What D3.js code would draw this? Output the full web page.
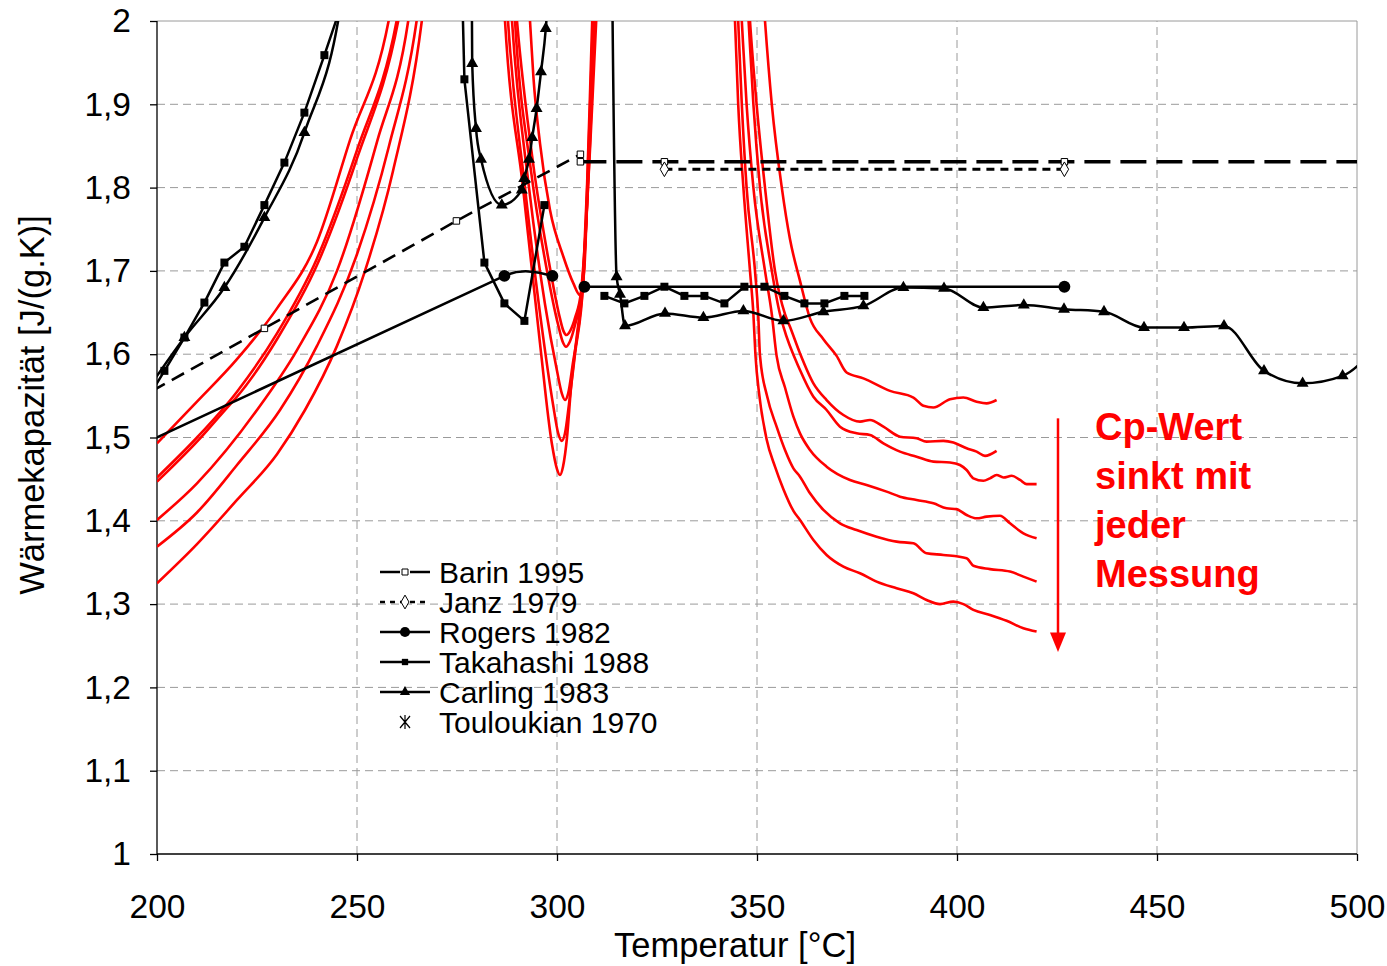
<!DOCTYPE html>
<html>
<head>
<meta charset="utf-8">
<script src="https://cdn.jsdelivr.net/npm/d3@7"></script>
<style>
  body { margin: 0; background: #fff; }
  text { font-family: "Liberation Sans", Arial, sans-serif; }
</style>
</head>
<body>
<svg id="chart" width="1387" height="966"></svg>
<script>
// axis ticks
const xTicks = [200, 250, 300, 350, 400, 450, 500];
const yTicks = [1, 1.1, 1.2, 1.3, 1.4, 1.5, 1.6, 1.7, 1.8, 1.9, 2];
const yTickLabels = ["1", "1,1", "1,2", "1,3", "1,4", "1,5", "1,6", "1,7", "1,8", "1,9", "2"];

// literature data [T in °C, cp in J/(g.K)]
const barinSolid = [[126.85, 1.363], [226.85, 1.631], [274.85, 1.760], [305.85, 1.840]];
const barinLiquid = [[305.85, 1.831], [326.85, 1.831], [426.85, 1.831], [526.85, 1.831]];
const janz = [[326.85, 1.822], [426.85, 1.822]];
const rogersSolid = [[126.85, 1.337], [286.85, 1.694], [298.85, 1.694]];
const rogersLiquid = [[306.85, 1.681], [426.85, 1.681]];
const takahashiA = [[196.85, 1.54], [201.85, 1.580], [206.85, 1.620], [211.85, 1.662], [216.85, 1.710],
  [221.85, 1.729], [226.85, 1.779], [231.85, 1.830], [236.85, 1.890], [241.85, 1.959], [246.85, 2.03],
  [251.85, 2.5], [256.85, 3.0], [261.85, 3.2], [266.85, 3.1], [271.85, 2.9], [276.85, 1.930],
  [281.85, 1.710], [286.85, 1.661], [291.85, 1.640], [296.85, 1.779]];
const takahashiB = [[311.85, 1.670], [316.85, 1.661], [321.85, 1.670], [326.85, 1.681], [331.85, 1.670],
  [336.85, 1.670], [341.85, 1.661], [346.85, 1.681], [351.85, 1.681], [356.85, 1.670], [361.85, 1.661],
  [366.85, 1.661], [371.85, 1.670], [376.85, 1.670]];
const carling = [[196.85, 1.552], [206.85, 1.620], [216.85, 1.680], [226.85, 1.764], [236.85, 1.866],
  [246.85, 2.05], [256.85, 2.6], [266.85, 3.2], [277.5, 3.0], [278.8, 1.949], [279.75, 1.871], [281, 1.834],
  [286.2, 1.779], [291.2, 1.797], [291.8, 1.811], [293, 1.834], [293.8, 1.860], [294.9, 1.895], [296, 1.939],
  [297.2, 1.991], [298.5, 2.1], [305, 3.5], [312.5, 2.6], [314.9, 1.693], [315.75, 1.672], [317, 1.634],
  [327, 1.649], [336.6, 1.644], [346.6, 1.652], [356.6, 1.640], [366.6, 1.651], [376.6, 1.658],
  [386.6, 1.680], [396.75, 1.679], [406.6, 1.656], [416.7, 1.659], [426.75, 1.654], [436.75, 1.651],
  [446.75, 1.632], [456.75, 1.632], [466.75, 1.634], [476.75, 1.580], [486.4, 1.565], [496.4, 1.574],
  [506.4, 1.62]];

// own measurements (red), one array per run
const messung1 = [[200, 1.493], [210, 1.543], [220, 1.594], [230, 1.655], [240, 1.735], [248.25, 1.857],
  [257.9, 2.0], [262, 2.12], [275, 2.6], [290, 2.2],
  [293.25, 2.0], [294.1, 1.933], [295.75, 1.853], [298.25, 1.773], [301.6, 1.717], [304.1, 1.685],
  [305.75, 1.671], [306.8, 1.70], [307.5, 1.78], [308.4, 1.90], [309.2, 2.0], [310, 2.1], [330, 2.6], [350, 2.15],
  [352, 2.0], [353.7, 1.9], [356.2, 1.8], [358.25, 1.738], [360.75, 1.688], [363.25, 1.643], [366.6, 1.618],
  [369.9, 1.598], [372.4, 1.578], [376.6, 1.571], [383.25, 1.556], [389.1, 1.548], [391.6, 1.538],
  [394.1, 1.536], [398.25, 1.546], [401.6, 1.548], [404.9, 1.543], [407.4, 1.541], [409.9, 1.545]];
const messung2 = [[200, 1.452], [210, 1.500], [220, 1.555], [230, 1.625], [240, 1.715], [250, 1.845],
  [259.9, 2.0], [264, 2.12], [276, 2.6], [287, 2.2],
  [290, 2.0], [294, 1.83], [298, 1.71], [300.5, 1.648], [301.6, 1.628], [302.4, 1.623], [303.3, 1.628],
  [304.6, 1.645], [306, 1.675], [307.2, 1.75], [308.6, 1.88], [309.8, 2.0], [311, 2.15], [330, 2.6], [346.5, 2.15],
  [348.25, 2.0], [349.9, 1.9], [352, 1.8], [354.5, 1.7], [357, 1.648], [358.25, 1.633], [360.75, 1.601],
  [364.1, 1.565], [367.4, 1.545], [371.6, 1.527], [375.75, 1.519], [378.25, 1.521], [381.6, 1.513],
  [385.75, 1.501], [389.9, 1.499], [392.4, 1.495], [396.6, 1.496], [399.1, 1.494], [402.4, 1.487],
  [404.9, 1.483], [407, 1.478], [409.9, 1.484]];
const messung3 = [[200, 1.447], [210, 1.495], [217, 1.533], [220, 1.549], [230, 1.618], [240, 1.707],
  [250, 1.835], [260.3, 2.0], [264.5, 2.12], [276.5, 2.6], [287, 2.25],
  [289.5, 2.0], [293.5, 1.82], [297.5, 1.70], [300.3, 1.635], [301.5, 1.614], [302.25, 1.609], [303.2, 1.615],
  [304.5, 1.635], [306, 1.67], [307, 1.73], [308.3, 1.86], [309.5, 2.0], [310.7, 2.15], [329, 2.6], [346, 2.15],
  [347.9, 2.0], [349.1, 1.9], [350.75, 1.8], [353.7, 1.7], [355.75, 1.648], [356.6, 1.633], [360.75, 1.581],
  [364.1, 1.549], [367.4, 1.533], [370.75, 1.513], [374.9, 1.505], [378.25, 1.503], [381.6, 1.493],
  [385.75, 1.483], [389.9, 1.477], [394.1, 1.471], [398.25, 1.470], [400.75, 1.467], [402.4, 1.461],
  [404.1, 1.451], [406.6, 1.448], [408.25, 1.451], [409.9, 1.455], [411.6, 1.452], [413.7, 1.454],
  [415.75, 1.449], [417.4, 1.444], [419.9, 1.444]];
const messung4 = [[200, 1.401], [210, 1.445], [225, 1.533], [235, 1.605], [245, 1.70], [255, 1.855],
  [262.8, 2.0], [266, 2.12], [277, 2.6], [286, 2.25],
  [288.75, 2.0], [293, 1.8], [297, 1.66], [300, 1.58], [301.2, 1.553], [302, 1.545], [302.8, 1.553],
  [304, 1.59], [305.3, 1.63], [306.6, 1.69], [307.9, 1.83], [308.8, 1.95], [309.3, 2.0], [310.5, 2.15], [328, 2.6], [344.5, 2.15],
  [346.2, 2.0], [347.4, 1.9], [349.1, 1.8], [352, 1.7], [353.7, 1.648], [354.9, 1.598], [357, 1.56],
  [359.1, 1.525], [360.75, 1.505], [363.25, 1.485], [367.4, 1.465], [373.25, 1.449], [377.4, 1.443],
  [382.4, 1.435], [385.75, 1.429], [389.9, 1.425], [394.1, 1.421], [397.4, 1.415], [399.9, 1.414],
  [402.4, 1.407], [404.9, 1.403], [407.4, 1.405], [410.75, 1.406], [413.25, 1.397], [416.6, 1.385],
  [419.9, 1.379]];
const messung5 = [[200, 1.369], [210, 1.41], [220, 1.467], [230.75, 1.533], [240, 1.61], [250, 1.72],
  [258, 1.85], [264.9, 2.0], [268, 2.12], [278, 2.6], [285, 2.25],
  [287.75, 2.0], [292, 1.8], [296, 1.64], [299, 1.54], [300.3, 1.505], [301.2, 1.496], [302, 1.505],
  [303, 1.54], [304.5, 1.60], [306.6, 1.69], [307.7, 1.82], [308.5, 1.93], [309, 2.0], [310.2, 2.15], [327, 2.6], [343.6, 2.15],
  [345.3, 2.0], [346.2, 1.9], [347.4, 1.8], [349.5, 1.7], [350.3, 1.648], [350.75, 1.598], [352.5, 1.55],
  [354.9, 1.513], [357, 1.485], [359.1, 1.463], [360.75, 1.453], [363.25, 1.433], [366.6, 1.413],
  [370.75, 1.397], [374.9, 1.389], [379.9, 1.381], [384.9, 1.375], [389.1, 1.373], [392.4, 1.361],
  [396.6, 1.359], [402.4, 1.355], [404.1, 1.346], [408.25, 1.342], [413.25, 1.339], [416.6, 1.333],
  [419.9, 1.327]];
const messung6 = [[200, 1.325], [210, 1.372], [220, 1.425], [230, 1.48], [237, 1.533], [245, 1.61],
  [252, 1.70], [259, 1.82], [266.2, 2.0], [269, 2.12], [278, 2.6], [284.5, 2.25],
  [287, 2.0], [291.5, 1.8], [295.75, 1.613], [298.7, 1.493], [300, 1.462], [300.75, 1.455], [301.5, 1.465],
  [302.5, 1.5], [303.5, 1.56], [304.9, 1.62], [306.6, 1.70], [307.5, 1.80], [308.3, 1.92], [308.8, 2.0],
  [310, 2.15], [326, 2.6], [342.8, 2.15],
  [344.5, 2.0], [345.3, 1.9], [346.6, 1.8], [348.25, 1.7], [349.1, 1.648], [349.6, 1.60], [350.6, 1.55],
  [352.4, 1.498], [354.5, 1.465], [356.6, 1.438], [359.1, 1.412], [360.75, 1.401], [364.1, 1.377],
  [367.4, 1.359], [371.6, 1.345], [375.75, 1.337], [379.9, 1.327], [384.9, 1.319], [389.1, 1.313],
  [392.4, 1.305], [395.75, 1.300], [399.1, 1.303], [401.6, 1.300], [404.1, 1.293], [408.25, 1.287],
  [412.4, 1.280], [416.6, 1.271], [419.9, 1.267]];
const messungen = [messung1, messung2, messung3, messung4, messung5, messung6];

const legendNames = ["Barin 1995", "Janz 1979", "Rogers 1982", "Takahashi 1988", "Carling 1983", "Touloukian 1970"];
const noteLines = ["Cp-Wert", "sinkt mit", "jeder", "Messung"];

const svg = d3.select("#chart");
const x = d3.scaleLinear().domain([200, 500]).range([157, 1357]);
const y = d3.scaleLinear().domain([1, 2]).range([854, 21]);

svg.append("defs").append("clipPath").attr("id", "plot")
  .append("rect").attr("x", 157).attr("y", 21).attr("width", 1200).attr("height", 833);

// grid
const grid = svg.append("g");
grid.selectAll("line.h").data(yTicks.slice(1)).enter().append("line")
  .attr("x1", x(200)).attr("x2", x(500))
  .attr("y1", d => y(d)).attr("y2", d => y(d))
  .attr("stroke", "#9a9a9a").attr("stroke-width", 1)
  .attr("stroke-dasharray", d => d === 2 ? null : "8,5");
grid.selectAll("line.v").data(xTicks.slice(1)).enter().append("line")
  .attr("x1", d => x(d)).attr("x2", d => x(d))
  .attr("y1", y(1)).attr("y2", y(2))
  .attr("stroke", "#9a9a9a").attr("stroke-width", 1)
  .attr("stroke-dasharray", d => d === 500 ? null : "8,5");

// axes
const yAxis = d3.axisLeft(y).tickValues(yTicks).tickSize(7).tickPadding(19)
  .tickFormat((d, i) => yTickLabels[i]);
const xAxis = d3.axisBottom(x).tickValues(xTicks).tickSize(7).tickPadding(33)
  .tickFormat(d => d);
const gy = svg.append("g").attr("transform", `translate(${x(200)},0)`).call(yAxis);
const gx = svg.append("g").attr("transform", `translate(0,${y(1)})`).call(xAxis);
[gx, gy].forEach(g => {
  g.selectAll("path,line").attr("stroke", "#000").attr("stroke-width", 1.3);
  g.selectAll("text").attr("font-size", 33.5).attr("fill", "#000")
    .style("font-family", '"Liberation Sans", Arial, sans-serif');
});
gx.selectAll("text").attr("dy", "0.35em").attr("y", 52);
gy.select(".domain").attr("d", `M0,${y(2)}V${y(1)}`);
gx.select(".domain").attr("d", `M${x(200)},0H${x(500)}`);

svg.append("text").attr("x", 735).attr("y", 957).attr("text-anchor", "middle")
  .attr("font-size", 34.5).text("Temperatur [°C]");
svg.append("text").attr("transform", "translate(44,405) rotate(-90)").attr("text-anchor", "middle")
  .attr("font-size", 34.5).text("Wärmekapazität [J/(g.K)]");

const plot = svg.append("g").attr("clip-path", "url(#plot)");
const toLine = (curve) => d3.line().x(d => x(d[0])).y(d => y(d[1])).curve(curve);
const inside = d => d[0] >= 200 && d[0] <= 500 && d[1] >= 1 && d[1] <= 2;

// red measurements
plot.selectAll("path.mess").data(messungen).enter().append("path")
  .attr("d", toLine(d3.curveMonotoneX))
  .attr("fill", "none").attr("stroke", "#ff0000").attr("stroke-width", 2.6);

// literature lines
function series(d, dash, width) {
  plot.append("path").attr("d", d)
    .attr("fill", "none").attr("stroke", "#000").attr("stroke-width", width)
    .attr("stroke-dasharray", dash);
}
// Rogers: straight rise, then a smoothed hump between the last two points
function rogersPath(data) {
  const p = d3.path();
  const [a, b, c] = data.map(d => [x(d[0]), y(d[1])]);
  const s = (b[1] - a[1]) / (b[0] - a[0]);
  const dx = (c[0] - b[0]) / 3;
  p.moveTo(a[0], a[1]);
  p.lineTo(b[0], b[1]);
  p.bezierCurveTo(b[0] + dx, b[1] + s * dx, c[0] - dx, c[1] + 0.6 * s * dx, c[0], c[1]);
  return p.toString();
}
series(toLine(d3.curveLinear)(barinSolid), "14,8", 2.6);
series(toLine(d3.curveLinear)(barinLiquid), "26,10", 3.4);
series(toLine(d3.curveLinear)(janz), "8,6", 3);
series(rogersPath(rogersSolid), null, 2.5);
series(toLine(d3.curveLinear)(rogersLiquid), null, 2.6);
series(toLine(d3.curveLinear)(takahashiA), null, 2.5);
series(toLine(d3.curveLinear)(takahashiB), null, 2.5);
series(toLine(d3.curveMonotoneX)(carling), null, 2.5);

function markers(data, type, size, open) {
  svg.append("g").selectAll("path").data(data.filter(inside)).enter().append("path")
    .attr("transform", d => `translate(${x(d[0])},${y(d[1])})`)
    .attr("d", d3.symbol().type(type).size(size))
    .attr("fill", open ? "#fff" : "#000").attr("stroke", "#000").attr("stroke-width", open ? 1 : 0);
}
markers(barinSolid, d3.symbolSquare, 42, true);
markers(barinLiquid, d3.symbolSquare, 42, true);
markers(janz, d3.symbolDiamond, 62, true);
markers(rogersSolid, d3.symbolCircle, 110, false);
markers(rogersLiquid, d3.symbolCircle, 110, false);
markers(takahashiA, d3.symbolSquare, 64, false);
markers(takahashiB, d3.symbolSquare, 64, false);
markers(carling, d3.symbolTriangle, 62, false);

// legend
const legend = svg.append("g").attr("transform", "translate(380,572)");
const row = 30;
const items = legend.selectAll("g").data(legendNames).enter().append("g")
  .attr("transform", (d, i) => `translate(0,${i * row})`);
items.append("text").attr("x", 59).attr("dy", "0.36em").attr("font-size", 30).text(d => d);
items.filter((d, i) => i === 0).each(function () {
  const g = d3.select(this);
  g.append("line").attr("x1", 0).attr("x2", 20).attr("stroke", "#000").attr("stroke-width", 2.5);
  g.append("line").attr("x1", 30).attr("x2", 50).attr("stroke", "#000").attr("stroke-width", 2.5);
  g.append("path").attr("transform", "translate(25,0)").attr("d", d3.symbol().type(d3.symbolSquare).size(36)())
    .attr("fill", "#fff").attr("stroke", "#000");
});
items.filter((d, i) => i === 1).each(function () {
  const g = d3.select(this);
  g.append("line").attr("x1", 0).attr("x2", 50).attr("stroke", "#000").attr("stroke-width", 2.5)
    .attr("stroke-dasharray", "5,5");
  g.append("path").attr("transform", "translate(25,0)").attr("d", d3.symbol().type(d3.symbolDiamond).size(55)())
    .attr("fill", "#fff").attr("stroke", "#000");
});
const solidSym = [null, null, d3.symbolCircle, d3.symbolSquare, d3.symbolTriangle];
const solidSize = [0, 0, 80, 40, 45];
items.filter((d, i) => i >= 2 && i <= 4).each(function (d) {
  const i = legendNames.indexOf(d);
  const g = d3.select(this);
  g.append("line").attr("x1", 0).attr("x2", 50).attr("stroke", "#000").attr("stroke-width", 2.5);
  g.append("path").attr("transform", "translate(25,0)").attr("d", d3.symbol().type(solidSym[i]).size(solidSize[i])())
    .attr("fill", "#000");
});
items.filter((d, i) => i === 5).append("path")
  .attr("d", "M20,-6L30,6M20,6L30,-6M25,-7V7").attr("stroke", "#000").attr("stroke-width", 1.2);

// annotation
const arrowT = 425.25;
const note = svg.append("g");
note.append("line").attr("x1", x(arrowT)).attr("x2", x(arrowT)).attr("y1", y(1.523)).attr("y2", y(1.262))
  .attr("stroke", "#ff0000").attr("stroke-width", 2.5);
note.append("path")
  .attr("d", `M${x(arrowT) - 8},${y(1.266)}L${x(arrowT) + 8},${y(1.266)}L${x(arrowT)},${y(1.2425)}Z`)
  .attr("fill", "#ff0000");
note.selectAll("text").data(noteLines).enter().append("text")
  .attr("x", x(434.5)).attr("y", (d, i) => y(1.497) + i * 49)
  .attr("font-size", 38).attr("font-weight", "bold").attr("fill", "#ff0000").text(d => d);
</script>
</body>
</html>
